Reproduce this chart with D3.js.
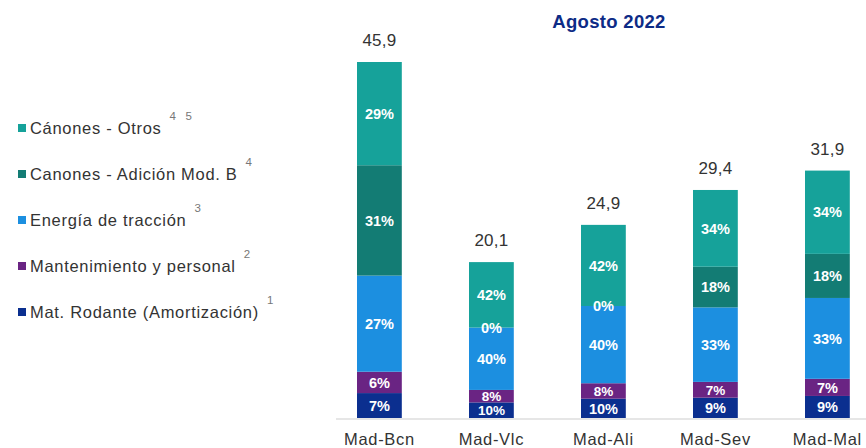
<!DOCTYPE html>
<html>
<head>
<meta charset="utf-8">
<script src="https://cdn.jsdelivr.net/npm/d3@7"></script>
<style>
  html, body { margin: 0; padding: 0; background: #fff; }
  svg { display: block; font-family: "Liberation Sans", Arial, sans-serif; }
</style>
</head>
<body>
<svg id="chart" width="866" height="448"></svg>
<script>
const routes = ['Mad-Bcn', 'Mad-Vlc', 'Mad-Ali', 'Mad-Sev', 'Mad-Mal'];
const totals = [45.9, 20.1, 24.9, 29.4, 31.9];
const totalLabels = ['45,9', '20,1', '24,9', '29,4', '31,9'];

// series listed bottom to top, values are % of each bar
const seriesKeys = ['rodante', 'mantenimiento', 'energia', 'adicion', 'otros'];
const seriesNames = [
  'Mat. Rodante (Amortización)',
  'Mantenimiento y personal',
  'Energía de tracción',
  'Canones - Adición Mod. B',
  'Cánones - Otros'
];
const seriesNotes = ['1', '2', '3', '4', '4   5'];
const seriesColors = ['#0b2f8f', '#6a2483', '#1c8fe0', '#137c74', '#16a29a'];

const pctRodante = [7, 10, 10, 9, 9];
const pctMantenimiento = [6, 8, 8, 7, 7];
const pctEnergia = [27, 40, 40, 33, 33];
const pctAdicion = [31, 0, 0, 18, 18];
const pctOtros = [29, 42, 42, 34, 34];

const pctBySeries = [pctRodante, pctMantenimiento, pctEnergia, pctAdicion, pctOtros];

const svg = d3.select('#chart');

const x = d3.scaleBand()
  .domain(routes)
  .range([334.6, 872.2])
  .paddingInner(0.6)
  .paddingOuter(0.2);

const y = d3.scaleLinear()
  .domain([0, 45.9])
  .range([418, 62]);

// rows with segment values scaled so each stack ends at its total
const rows = routes.map((route, i) => {
  const pctSum = d3.sum(pctBySeries, (s) => s[i]);
  const row = { route, total: totals[i], label: totalLabels[i] };
  seriesKeys.forEach((key, k) => {
    row[key] = totals[i] * pctBySeries[k][i] / pctSum;
    row[key + 'Pct'] = pctBySeries[k][i];
  });
  return row;
});

const stacked = d3.stack().keys(seriesKeys)(rows);

// baseline
svg.append('line')
  .attr('x1', 336).attr('x2', 866)
  .attr('y1', y(0) + 1).attr('y2', y(0) + 1)
  .attr('stroke', '#dedede')
  .attr('stroke-width', 1.5);

const layers = svg.append('g')
  .selectAll('g')
  .data(stacked)
  .join('g')
  .attr('fill', (d, i) => seriesColors[i]);

layers.selectAll('rect')
  .data((d) => d)
  .join('rect')
  .attr('x', (d) => x(d.data.route))
  .attr('width', x.bandwidth())
  .attr('y', (d) => y(d[1]))
  .attr('height', (d) => y(d[0]) - y(d[1]));

// percentage labels, a touch smaller inside very thin segments
function segHeight(d) {
  return y(d[0]) - y(d[1]);
}

svg.append('g')
  .selectAll('g')
  .data(stacked)
  .join('g')
  .selectAll('text')
  .data((layer) => layer.map((d) => ({ d, key: layer.key })))
  .join('text')
  .attr('x', (e) => x(e.d.data.route) + x.bandwidth() / 2)
  .attr('y', (e) => (y(e.d[0]) + y(e.d[1])) / 2)
  .attr('dy', '0.36em')
  .attr('text-anchor', 'middle')
  .attr('fill', '#fff')
  .attr('font-size', (e) => (segHeight(e.d) > 0 && segHeight(e.d) < 16 ? 13.5 : 14.5))
  .attr('font-weight', 'bold')
  .text((e) => e.d.data[e.key + 'Pct'] + '%');

// totals
svg.append('g')
  .selectAll('text')
  .data(rows)
  .join('text')
  .attr('x', (d) => x(d.route) + x.bandwidth() / 2)
  .attr('y', (d) => y(d.total) - 16)
  .attr('text-anchor', 'middle')
  .attr('fill', '#333')
  .attr('font-size', 17)
  .attr('letter-spacing', 0.2)
  .text((d) => d.label);

// category axis
const xAxis = svg.append('g')
  .attr('transform', `translate(0, ${y(0)})`)
  .call(d3.axisBottom(x).tickSize(0).tickPadding(15));
xAxis.select('.domain').remove();
xAxis.selectAll('text')
  .attr('font-size', 16.5)
  .attr('letter-spacing', 0.7)
  .attr('font-family', '"Liberation Sans", Arial, sans-serif')
  .attr('fill', '#333');

// title
svg.append('text')
  .attr('x', 609)
  .attr('y', 28)
  .attr('text-anchor', 'middle')
  .attr('fill', '#0d2b86')
  .attr('font-size', 18.5)
  .attr('font-weight', 'bold')
  .attr('letter-spacing', 0.3)
  .text('Agosto 2022');

// legend, top to bottom
const legendOrder = d3.range(seriesKeys.length).reverse();
const legendY = d3.scalePoint()
  .domain(legendOrder)
  .range([128, 312]);

const legend = svg.append('g')
  .selectAll('g')
  .data(legendOrder)
  .join('g')
  .attr('transform', (i) => `translate(18, ${legendY(i)})`);

legend.append('rect')
  .attr('x', 0)
  .attr('y', -4)
  .attr('width', 8)
  .attr('height', 8)
  .attr('fill', (i) => seriesColors[i]);

legend.append('text')
  .attr('x', 12)
  .attr('dy', '0.36em')
  .attr('fill', '#333')
  .attr('font-size', 16.5)
  .attr('letter-spacing', 0.7)
  .text((i) => seriesNames[i]);

legend.each(function (i) {
  const g = d3.select(this);
  const w = g.select('text').node().getComputedTextLength();
  g.append('text')
    .attr('x', 12 + w + 8)
    .attr('y', -8)
    .attr('fill', '#777')
    .attr('font-size', 11.5)
    .attr('xml:space', 'preserve')
    .style('white-space', 'pre')
    .text(seriesNotes[i]);
});
</script>
</body>
</html>
